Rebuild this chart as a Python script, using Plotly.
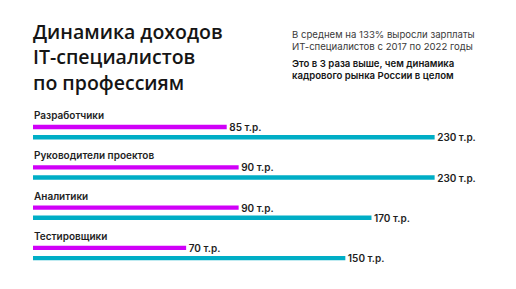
import math
import plotly.graph_objects as go

categories = ["Разработчики", "Руководители проектов", "Аналитики", "Тестировщики"]
salary_2017 = [85, 90, 90, 70]
salary_2022 = [230, 230, 170, 150]
unit = "т.р."

title_lines = ["Динамика доходов", "IT-специалистов", "по профессиям"]
note_lines = ["В среднем на 133% выросли зарплаты", "ИТ-специалистов с 2017 по 2022 годы"]
note_bold_lines = ["Это в 3 раза выше, чем динамика", "кадрового рынка России в целом"]

PINK = "#D000F8"
CYAN = "#00AEC6"
FONT = "Inter"

W, H = 516, 289
M_T, M_B, M_L, M_R = 112, 11, 33, 33
PLOT_H = H - M_T - M_B


def py(pix):
    return (H - M_B - pix) / PLOT_H


fig = go.Figure()
for vals, col in [(salary_2017, PINK), (salary_2022, CYAN)]:
    fig.add_trace(go.Bar(
        y=categories, x=vals, orientation="h",
        marker=dict(color=col, line=dict(width=0)),
        text=["&nbsp;" + f"{v} {unit}" for v in vals],
        textposition="outside", constraintext="none", cliponaxis=False,
        textfont=dict(family=FONT, size=10, color="#1e1e1e", weight=600),
        showlegend=False,
    ))

ann = []
for c in categories:
    ann.append(dict(x=0, xref="paper", y=c, yref="y", text=c, showarrow=False,
                    xanchor="left", yanchor="middle", yshift=17, xshift=-1,
                    font=dict(family=FONT, size=10, color="#1e1e1e", weight=600)))

ann.append(dict(x=0, xref="paper", y=py(57), yref="paper", text="<br>".join(title_lines),
                showarrow=False, xanchor="left", yanchor="middle", align="left", xshift=-2,
                font=dict(family="Open Sans", size=19.5, color="#151515", weight=600)))

note_x = (290 - M_L) / (W - M_L - M_R)
ann.append(dict(x=note_x, xref="paper", y=py(40.5), yref="paper", text="<br>".join(note_lines),
                showarrow=False, xanchor="left", yanchor="middle", align="left",
                font=dict(family=FONT, size=9.6, color="#3a3a3a")))
ann.append(dict(x=note_x, xref="paper", y=py(69.3), yref="paper", text="<br>".join(note_bold_lines),
                showarrow=False, xanchor="left", yanchor="middle", align="left",
                font=dict(family=FONT, size=9.6, color="#151515", weight=600)))

fig.update_layout(
    width=W, height=H,
    margin=dict(l=M_L, r=M_R, t=M_T, b=M_B, pad=0),
    paper_bgcolor="white", plot_bgcolor="white",
    barmode="group", bargap=0.494, bargroupgap=0.57,
    annotations=ann,
    xaxis=dict(type="log", range=[1.5267, 2.4623], visible=False, fixedrange=True),
    yaxis=dict(categoryorder="array", categoryarray=categories, autorange="reversed",
               visible=False, fixedrange=True),
    showlegend=False,
)

fig.write_html("out.html")
